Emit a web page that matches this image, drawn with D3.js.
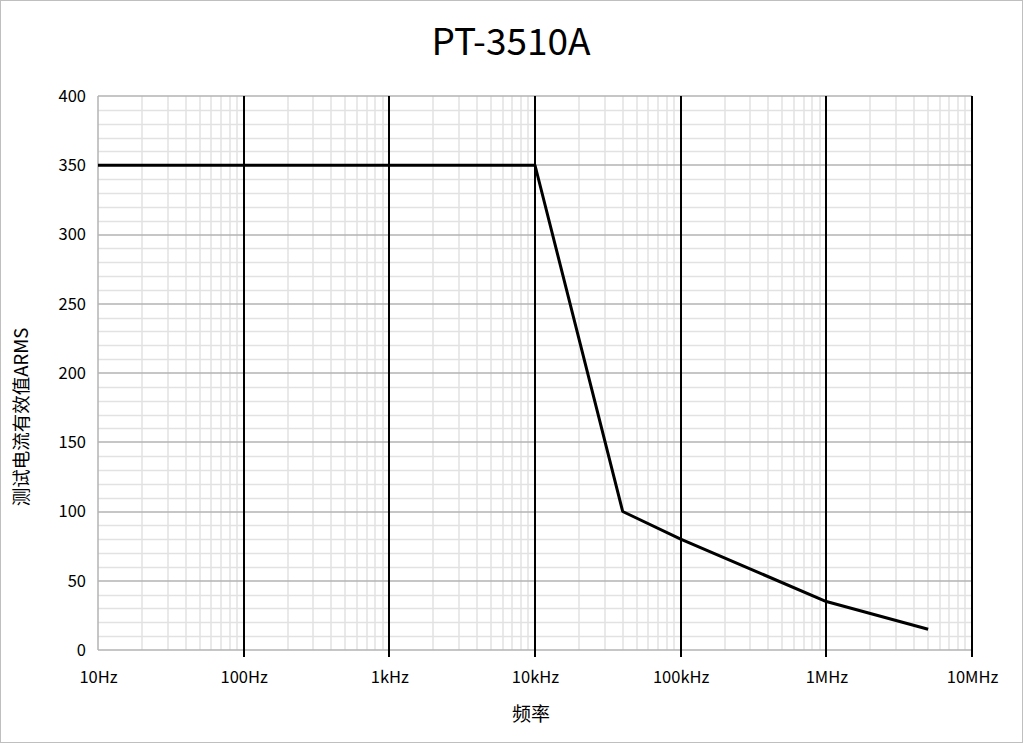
<!DOCTYPE html>
<html><head><meta charset="utf-8">
<script src="https://cdn.jsdelivr.net/npm/d3@7"></script>
<style>body{margin:0;background:#fff;font-family:"Noto Sans CJK SC","Noto Sans",sans-serif;}</style>
</head><body><svg id="c" width="1023" height="743"></svg>
<script>
const title = "PT-3510A";
const xLabel = "频率";
const yLabel = "测试电流有效值ARMS";
const freqs = [10, 10000, 40000, 100000, 1000000, 5000000];
const currents = [350, 350, 100, 80, 35, 15];
const xTickValues = [10, 100, 1000, 10000, 100000, 1000000, 10000000];
const xTickLabels = ["10Hz", "100Hz", "1kHz", "10kHz", "100kHz", "1MHz", "10MHz"];
const yTickValues = [0, 50, 100, 150, 200, 250, 300, 350, 400];

const svg = d3.select("#c");
svg.append("rect").attr("x",0.5).attr("y",0.5).attr("width",1022).attr("height",742)
  .attr("fill","#fff").attr("stroke","#bfbfbf");

const L=98, R=972, T=96, B=650;
const x = d3.scaleLog().domain([10, 1e7]).range([L, R]);
const y = d3.scaleLinear().domain([0, 400]).range([B, T]);

const g = svg.append("g");
const yMinor = d3.range(0, 401, 10).filter(v => v % 50 !== 0);
g.selectAll(".hm").data(yMinor).join("line")
  .attr("x1",L).attr("x2",R).attr("y1",d=>Math.round(y(d))+0.5).attr("y2",d=>Math.round(y(d))+0.5)
  .attr("stroke","#e2e2e2").attr("stroke-width",1.5);
const xMinor = [];
for (let e=1; e<7; e++) for (let m=2; m<10; m++) xMinor.push(m*Math.pow(10,e));
g.selectAll(".vm").data(xMinor).join("line")
  .attr("x1",d=>Math.round(x(d))).attr("x2",d=>Math.round(x(d))).attr("y1",T).attr("y2",B)
  .attr("stroke","#e2e2e2").attr("stroke-width",1.5);
g.selectAll(".hM").data(yTickValues).join("line")
  .attr("x1",L).attr("x2",R).attr("y1",d=>Math.round(y(d))).attr("y2",d=>Math.round(y(d)))
  .attr("stroke","#b3b3b3").attr("stroke-width",1.5);
g.append("line").attr("x1",L).attr("x2",L).attr("y1",T).attr("y2",B).attr("stroke","#b3b3b3").attr("stroke-width",1.5);
g.selectAll(".vM").data(xTickValues.slice(1)).join("line")
  .attr("x1",d=>Math.round(x(d))).attr("x2",d=>Math.round(x(d))).attr("y1",T).attr("y2",B+7)
  .attr("stroke","#000").attr("stroke-width",2);

const xAxis = d3.axisBottom(x).tickValues(xTickValues).tickFormat((d,i)=>xTickLabels[i]).tickSize(0).tickPadding(21);
const xa = svg.append("g").attr("transform",`translate(0,${B})`).call(xAxis);
xa.select(".domain").remove();
xa.selectAll("text").attr("font-size",16.5).attr("fill","#000").attr("font-family","'Noto Sans CJK SC'");

const yAxis = d3.axisLeft(y).tickValues(yTickValues).tickSize(0).tickPadding(12);
const ya = svg.append("g").attr("transform",`translate(${L},0)`).call(yAxis);
ya.select(".domain").remove();
ya.selectAll("text").attr("font-size",16.5).attr("fill","#000").attr("font-family","'Noto Sans CJK SC'");

const line = d3.line().x((d,i)=>x(freqs[i])).y(d=>y(d));
svg.append("path").datum(currents).attr("d",line).attr("fill","none")
  .attr("stroke","#000").attr("stroke-width",3).attr("stroke-linejoin","round");

svg.append("text").attr("x",511).attr("y",55).attr("text-anchor","middle")
  .attr("font-size",37).attr("fill","#000").text(title);
svg.append("text").attr("x",531).attr("y",721).attr("text-anchor","middle")
  .attr("font-size",19).attr("fill","#000").text(xLabel);
svg.append("text").attr("transform","translate(28,417) rotate(-90)").attr("text-anchor","middle")
  .attr("font-size",18.5).attr("fill","#000").text(yLabel);
</script></body></html>
